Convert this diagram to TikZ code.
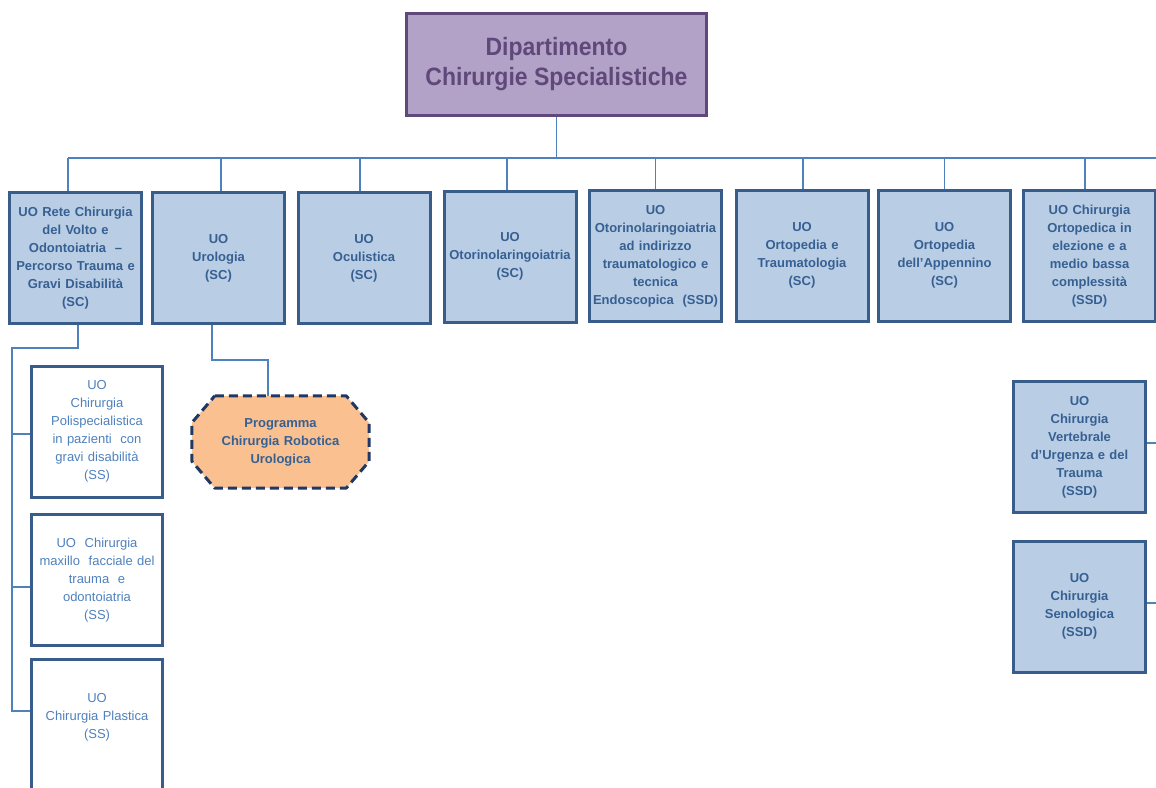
\documentclass[tikz,border=0pt]{standalone}
\usepackage{fontspec}
\setmainfont{Liberation Sans}
\usetikzlibrary{calc,backgrounds}
\definecolor{purplefill}{HTML}{B3A2C7}
\definecolor{purpleline}{HTML}{5F497A}
\definecolor{bluefill}{HTML}{B9CDE5}
\definecolor{blueline}{HTML}{385D8A}
\definecolor{bluetext}{HTML}{376092}
\definecolor{lighttext}{HTML}{4F81BD}
\definecolor{connector}{HTML}{4F81BD}
\definecolor{orangefill}{HTML}{FAC090}
\definecolor{navy}{HTML}{1F3864}
\tikzset{
  topbox/.style={draw=purpleline, fill=purplefill, line width=3pt, minimum width=300pt, minimum height=102pt,
    text=purpleline, font=\bfseries\fontsize{23}{27.5}\selectfont, align=center, inner sep=0pt},
  unitbox/.style={draw=blueline, fill=bluefill, line width=3pt, minimum width=132pt, minimum height=131pt,
    text width=132pt, text=bluetext, font=\bfseries\fontsize{13}{18}\selectfont, align=center, inner sep=0pt},
  subbox/.style={draw=blueline, fill=white, line width=3pt, minimum width=131pt, minimum height=131pt,
    text width=131pt, text=lighttext, font=\fontsize{13}{18}\selectfont, align=center, inner sep=0pt},
  sublabel/.style={text width=131pt, text=lighttext, font=\fontsize{13}{18}\selectfont, align=center, inner sep=0pt},
  progbox/.style={minimum width=177pt, minimum height=92pt, text width=170pt, text=bluetext,
    font=\bfseries\fontsize{13}{18}\selectfont, align=center, inner sep=0pt},
  progframe/.style={draw=navy, fill=orangefill, line width=3pt, dash pattern=on 9pt off 5pt, line join=round},
  link/.style={draw=connector, line width=1.6pt}
}
\begin{document}
\begin{tikzpicture}[x=1pt,y=-1pt]
\useasboundingbox (0,0) rectangle (1156,787);

\node[topbox] (top) at (556.5,64.5) {\raisebox{-3pt}{\scalebox{1}[1.09]{\parbox{300pt}{\centering Dipartimento\\Chirurgie Specialistiche}}}};

\node[unitbox] (b1) at (75.5,258) {UO Rete Chirurgia\\del Volto e\\Odontoiatria \ --\\Percorso Trauma e\\Gravi Disabilità\\(SC)};
\node[unitbox] (b2) at (218.5,258) {UO\\Urologia\\(SC)};
\node[unitbox] (b3) at (364,258) {UO\\Oculistica\\(SC)};
\node[unitbox] (b4) at (510,256.5) {UO\\Otorinolaringoiatria\\(SC)};
\node[unitbox] (b5) at (655.5,256) {UO\\Otorinolaringoiatria\\ad indirizzo\\traumatologico e\\tecnica\\Endoscopica \ (SSD)};
\node[unitbox] (b6) at (802,255.5) {UO\\Ortopedia e\\Traumatologia\\(SC)};
\node[unitbox] (b7) at (944.5,255.5) {UO\\Ortopedia\\dell’Appennino\\(SC)};
\node[unitbox] (b8) at (1089.5,256) {UO Chirurgia\\Ortopedica in\\elezione e a\\medio bassa\\complessità\\(SSD)};

\node[subbox] (sa) at (97,431.5) {UO\\Chirurgia\\Polispecialistica\\in pazienti \ con\\gravi disabilità\\(SS)};
\node[subbox] (sb) at (97,580) {UO \ Chirurgia\\maxillo \ facciale del\\trauma \ e\\odontoiatria\\(SS)};
\node[subbox, minimum height=160pt, anchor=north,
  label={[sublabel, anchor=north, yshift=-35pt]north:{UO\\Chirurgia Plastica\\(SS)}}] (sc) at (97,658) {};

\node[progbox] (prog) at (280.5,442) {Programma\\Chirurgia Robotica\\Urologica};
\begin{pgfonlayer}{background}
\fill[white] (0,0) rectangle (1156,787);
\path[progframe] ($(prog.north west)+(23,0)$) -- ($(prog.north east)+(-23,0)$)
  -- ($(prog.north east)+(0,27)$) -- ($(prog.south east)+(0,-27)$)
  -- ($(prog.south east)+(-23,0)$) -- ($(prog.south west)+(23,0)$)
  -- ($(prog.south west)+(0,-27)$) -- ($(prog.north west)+(0,27)$) -- cycle;
\end{pgfonlayer}

\node[unitbox] (sd) at (1079.5,447) {UO\\Chirurgia\\Vertebrale\\d’Urgenza e del\\Trauma\\(SSD)};
\node[unitbox] (se) at (1079.5,606.5) {UO\\Chirurgia\\Senologica\\(SSD)};

% bus
\coordinate (busL) at (68,158);
\coordinate (busR) at (1156,158);
\draw[link] (top.south) -- (top.south |- busL);
\draw[link] (busL) -- (busR);
\draw[link] (busL) -- ($(b1.north)+(-7.5,0)$);
\draw[link] (b2.north |- busL) ++(2.5,0) -- ($(b2.north)+(2.5,0)$);
\draw[link] (b3.north |- busL) ++(-4,0) -- ($(b3.north)+(-4,0)$);
\draw[link] (b4.north |- busL) ++(-3,0) -- ($(b4.north)+(-3,0)$);
\draw[link] (b5.north |- busL) -- (b5.north);
\draw[link] (b6.north |- busL) ++(1,0) -- ($(b6.north)+(1,0)$);
\draw[link] (b7.north |- busL) -- (b7.north);
\draw[link] (b8.north |- busL) ++(-4.5,0) -- ($(b8.north)+(-4.5,0)$);

% left subtree
\coordinate (trunk) at (12,348);
\coordinate (jc) at (12,711);
\draw[link] ($(b1.south)+(2.5,0)$) |- (trunk) -- (jc) -- (jc -| sc.west);
\draw[link] ($(trunk |- sa.west)+(0,2.5)$) -- ($(sa.west)+(0,2.5)$);
\draw[link] ($(trunk |- sb.west)+(0,7)$) -- ($(sb.west)+(0,7)$);

% urology program
\draw[link] ($(b2.south)+(-6.5,0)$) -- ++(0,35) -| ($(prog.north)+(-12.5,0)$);

% right subtree stubs
\coordinate (rd) at (1156,443);
\coordinate (re) at (1156,603);
\draw[link] (sd.east |- rd) -- (rd);
\draw[link] (se.east |- re) -- (re);
\end{tikzpicture}
\end{document}
